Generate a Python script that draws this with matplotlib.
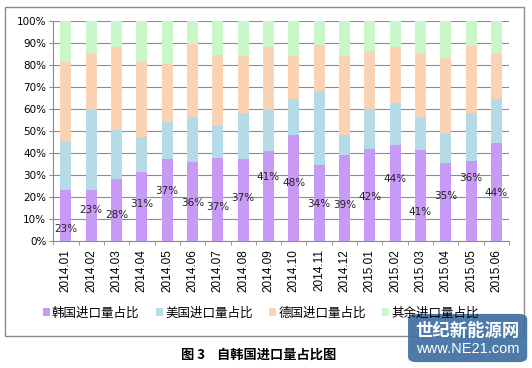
import numpy as np
import matplotlib.pyplot as plt
from matplotlib.patches import Rectangle, FancyBboxPatch

# dados (% de cada origem no total importado)
meses = ['2014.01', '2014.02', '2014.03', '2014.04', '2014.05', '2014.06',
         '2014.07', '2014.08', '2014.09', '2014.10', '2014.11', '2014.12',
         '2015.01', '2015.02', '2015.03', '2015.04', '2015.05', '2015.06']
coreia = [23.0, 23.0, 27.9, 31.2, 37.0, 35.6, 37.6, 37.0, 40.8,
          48.0, 34.2, 38.9, 41.7, 43.5, 41.2, 35.2, 36.1, 44.4]
eua = [22.3, 36.7, 22.4, 15.9, 16.9, 20.6, 14.4, 21.0, 18.9,
       16.4, 33.7, 9.1, 18.0, 19.1, 14.9, 13.6, 21.8, 20.0]
alemanha = [35.9, 25.1, 37.9, 34.1, 26.4, 33.3, 32.5, 25.9, 28.3,
            19.7, 21.0, 36.1, 26.5, 25.4, 28.9, 34.2, 30.7, 20.4]
outros = [18.8, 15.2, 11.8, 18.8, 19.7, 10.5, 15.5, 16.1, 12.0,
          15.9, 11.1, 15.9, 13.8, 12.0, 15.0, 17.0, 11.4, 15.2]
rotulos = ['23%', '23%', '28%', '31%', '37%', '36%', '37%', '37%', '41%',
           '48%', '34%', '39%', '42%', '44%', '41%', '35%', '36%', '44%']
series_nomes = ['韩国进口量占比', '美国进口量占比', '德国进口量占比', '其余进口量占比']

# altura dos rótulos (arrastados à mão no original)
altura_rotulo = [5.2, 13.9, 11.7, 16.7, 22.6, 17.1, 15.5, 19.5, 29.1,
                 26.1, 16.7, 16.2, 19.7, 28.0, 13.2, 20.5, 28.3, 21.5]

cores = ['#c79af5', '#b5dce6', '#fad3b4', '#c9f7c9']
fonte_cjk = ['Noto Sans CJK SC', 'DejaVu Sans']

fig = plt.figure(figsize=(5.32, 3.68), dpi=100)
ax = fig.add_axes([0.100, 0.346, 0.857, 0.598])

x = np.arange(len(meses))
base = np.zeros(len(meses))
for valores, cor, nome in zip([coreia, eua, alemanha, outros], cores, series_nomes):
    ax.bar(x, valores, 0.43, bottom=base, color=cor, label=nome, zorder=3)
    base = base + np.array(valores)

for i, txt in enumerate(rotulos):
    ax.text(x[i], altura_rotulo[i], txt, ha='center', va='center',
            fontsize=7.5, color='#222222', zorder=4)

ax.set_xlim(-0.5, len(meses) - 0.5)
ax.set_ylim(0, 100)
ax.set_yticks(np.arange(0, 101, 10))
ax.set_yticklabels([f'{v}%' for v in range(0, 101, 10)], fontsize=7.5)
ax.yaxis.grid(True, color='#8c8c8c', linewidth=0.8, zorder=0)

ax.set_xticks(x)
ax.set_xticklabels(meses, rotation=90, fontsize=8.5, family='Liberation Sans')
ax.set_xticks(np.arange(-0.5, len(meses), 1), minor=True)
ax.tick_params(axis='x', which='major', length=0, pad=6)
ax.tick_params(axis='x', which='minor', length=3, color='#8c8c8c')
ax.tick_params(axis='y', length=3, color='#8c8c8c', pad=2)

for lado in ['top', 'right']:
    ax.spines[lado].set_visible(False)
ax.spines['left'].set_color('#8c8c8c')
ax.spines['bottom'].set_color('#8c8c8c')

# legenda
fig.legend(loc='center', bbox_to_anchor=(0.49, 0.149), ncol=4, frameon=False,
           handlelength=0.6, handleheight=0.6, handletextpad=0.15,
           columnspacing=1.3, prop={'family': fonte_cjk, 'size': 9})

# moldura do gráfico
fig.patches.append(Rectangle((0.0094, 0.087), 0.9756, 0.894, transform=fig.transFigure,
                             fill=False, edgecolor='#8c8c8c', linewidth=1))

# título da figura
fig.text(0.487, 0.035, '图 3    自韩国进口量占比图', ha='center', va='center',
         fontsize=9.5, fontweight='bold', family=fonte_cjk)

# marca d'água
fig.patches.append(FancyBboxPatch((0.767, 0.016), 0.224, 0.131,
                                  boxstyle='round,pad=0,rounding_size=0.015',
                                  transform=fig.transFigure, facecolor='#3f6fa3',
                                  edgecolor='none', alpha=0.92, zorder=5))
fig.text(0.879, 0.101, '世纪新能源网', ha='center', va='center', fontsize=12.5,
         fontweight='heavy', color='white', family=fonte_cjk, zorder=6)
fig.text(0.879, 0.051, 'www.NE21.com', ha='center', va='center', fontsize=10.5,
         color='white', family='Liberation Sans', zorder=6)

plt.savefig('out.png', dpi=100)
